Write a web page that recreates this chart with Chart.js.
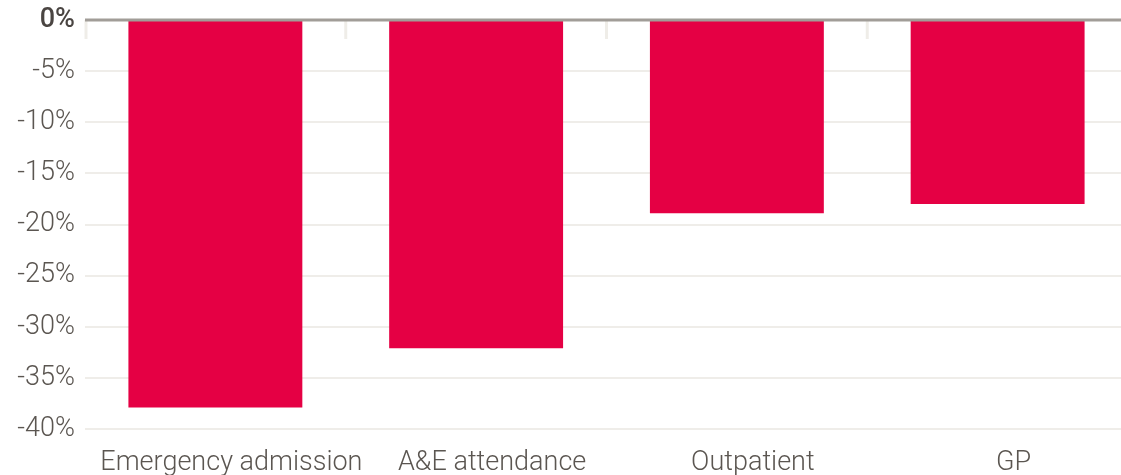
<!DOCTYPE html>
<html>
<head>
<meta charset="utf-8">
<script src="https://cdn.jsdelivr.net/npm/chart.js@4.4.1/dist/chart.umd.min.js"></script>
<style>
    html, body { margin: 0; padding: 0; background: #ffffff; overflow: hidden; }
    #marco { width: 1121px; height: 475px; overflow: hidden; }
    #wrap { width: 1128px; height: 475px; }
</style>
</head>
<body>
<div id="marco"><div id="wrap"><canvas id="grafico"></canvas></div></div>
<script>
var categorias = ["Emergency admission", "A&E attendance", "Outpatient", "GP"];
var cambio = [-37.9, -32.1, -18.9, -18.0];
var marcasY = [0, -5, -10, -15, -20, -25, -30, -35, -40];

var colorTexto = "#5b5651";
var fuente = "Roboto";

// linea del cero y marcas cortas entre categorias, encima de las barras
var lineasExtra = {
    id: "lineasExtra",
    afterDatasetsDraw: function (chart) {
        var c = chart.ctx;
        var x = chart.scales.x;
        var y = chart.scales.y;
        var y0 = y.getPixelForValue(0);
        var paso = x.getPixelForValue(1) - x.getPixelForValue(0);
        c.save();
        c.strokeStyle = "#efede8";
        c.lineWidth = 3;
        for (var i = 0; i < categorias.length; i++) {
            var px = x.getPixelForValue(i) - paso / 2;
            if (i == 0) px += 1;
            c.beginPath();
            c.moveTo(px, y0);
            c.lineTo(px, y0 + 19);
            c.stroke();
        }
        c.strokeStyle = "#a19d98";
        c.lineWidth = 3;
        c.beginPath();
        c.moveTo(chart.chartArea.left, y0);
        c.lineTo(chart.chartArea.right, y0);
        c.stroke();
        c.restore();
    }
};

var ctx = document.getElementById("grafico").getContext("2d");
var miGrafico = new Chart(ctx, {
    type: "bar",
    data: {
        labels: categorias,
        datasets: [{
            label: "Change",
            data: cambio,
            backgroundColor: "#e50044",
            borderWidth: 0,
            categoryPercentage: 1,
            barPercentage: 0.667
        }]
    },
    options: {
        responsive: true,
        maintainAspectRatio: false,
        animation: false,
        layout: { padding: { top: 20, right: 0, left: 0, bottom: 0 } },
        plugins: {
            legend: { display: false },
            tooltip: { enabled: false }
        },
        scales: {
            x: {
                grid: { display: false },
                border: { display: false },
                ticks: {
                    color: colorTexto,
                    padding: 10,
                    labelOffset: 16,
                    maxRotation: 0,
                    autoSkip: false,
                    font: { family: fuente, size: 27, weight: "300" }
                },
                afterFit: function (s) {
                    s.height = 46;
                    s.paddingLeft = 0;
                    s.paddingRight = 0;
                }
            },
            y: {
                min: -40,
                max: 0,
                afterBuildTicks: function (s) {
                    s.ticks = marcasY.map(function (v) { return { value: v }; });
                },
                grid: {
                    drawTicks: false,
                    color: function (c) { return c.tick && c.tick.value == 0 ? "rgba(0,0,0,0)" : "#efede9"; },
                    lineWidth: 2
                },
                border: { display: false },
                ticks: {
                    padding: 10,
                    color: function (c) { return c.tick && c.tick.value == 0 ? "#4a4542" : colorTexto; },
                    font: function (c) {
                        if (c.tick && c.tick.value == 0) return { family: fuente, size: 27, weight: "500" };
                        return { family: fuente, size: 27, weight: "300" };
                    },
                    callback: function (v) { return v + "%"; }
                },
                afterFit: function (s) {
                    s.width = 85;
                    s.paddingTop = 0;
                    s.paddingBottom = 0;
                }
            }
        }
    },
    plugins: [lineasExtra]
});
</script>
</body>
</html>
